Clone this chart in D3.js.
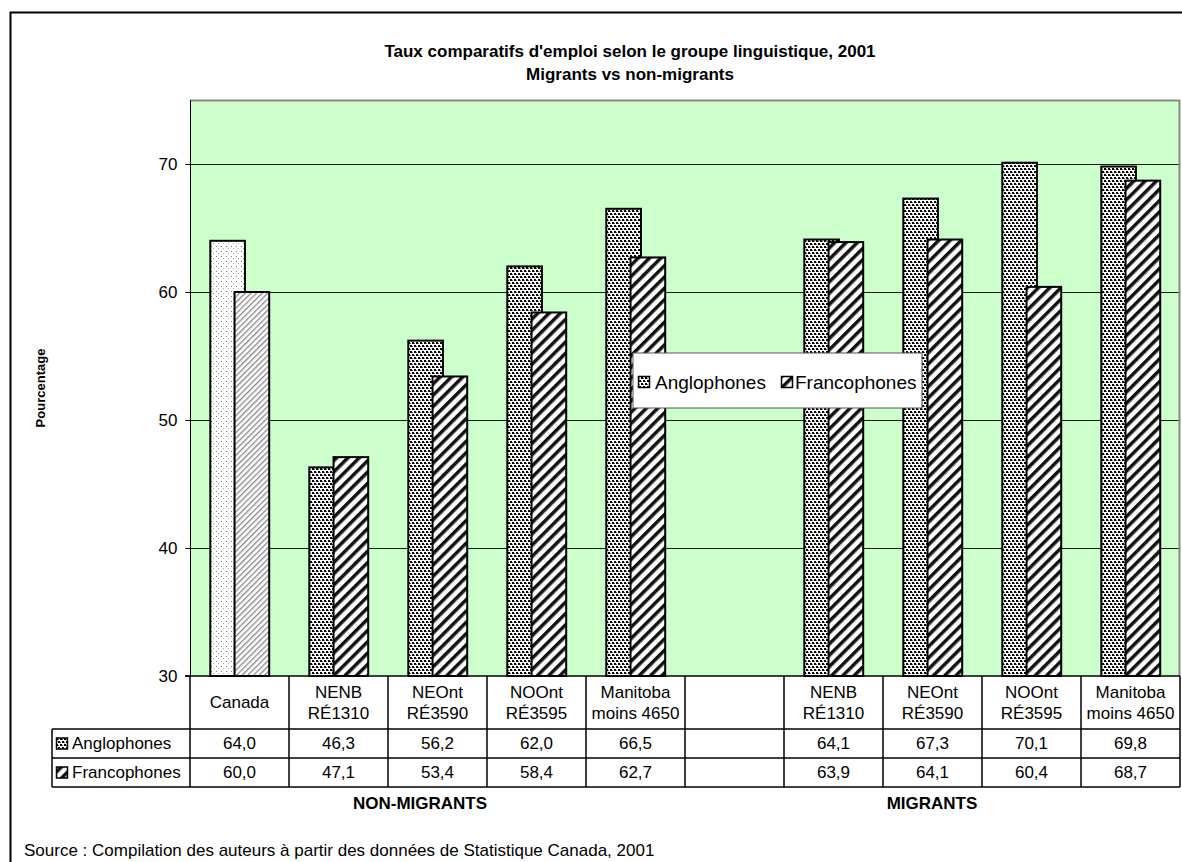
<!DOCTYPE html>
<html>
<head>
<meta charset="utf-8">
<script src="https://cdn.jsdelivr.net/npm/d3@7"></script>
<style>
  body { margin: 0; background: #fff; }
  svg text { font-family: "Liberation Sans", Arial, sans-serif; fill: #000; }
</style>
</head>
<body>
<div id="chart"></div>
<script>
// categories (two-line labels), empty slot separates non-migrants / migrants
var categories = [
  ["Canada"], ["NENB", "RÉ1310"], ["NEOnt", "RÉ3590"], ["NOOnt", "RÉ3595"], ["Manitoba", "moins 4650"],
  [],
  ["NENB", "RÉ1310"], ["NEOnt", "RÉ3590"], ["NOOnt", "RÉ3595"], ["Manitoba", "moins 4650"]
];
var anglophones  = [64.0, 46.3, 56.2, 62.0, 66.5, null, 64.1, 67.3, 70.1, 69.8];
var francophones = [60.0, 47.1, 53.4, 58.4, 62.7, null, 63.9, 64.1, 60.4, 68.7];
var seriesNames = ["Anglophones", "Francophones"];
var yTicks = [30, 40, 50, 60, 70];
var groupLabels = ["NON-MIGRANTS", "MIGRANTS"];
var titleLines = ["Taux comparatifs d'emploi selon le groupe linguistique, 2001", "Migrants vs non-migrants"];
var yTitle = "Pourcentage";
var source = "Source : Compilation des auteurs à partir des données de Statistique Canada, 2001";

var W = 1182, H = 862;
var plot = { left: 190, top: 100, right: 1180, bottom: 676 };

var svg = d3.select("#chart").append("svg")
    .attr("width", W)
    .attr("height", H);

// patterns
var defs = svg.append("defs");

var dots = defs.append("pattern").attr("id", "dots")
    .attr("width", 8).attr("height", 6).attr("patternUnits", "userSpaceOnUse");
dots.append("rect").attr("width", 8).attr("height", 6).attr("fill", "#fff");
[[0, 0], [4, 0], [2, 3], [6, 3]].forEach(function(p) {
    dots.append("rect").attr("x", p[0]).attr("y", p[1]).attr("width", 2).attr("height", 2).attr("fill", "#000");
});
[[2, 1], [6, 1], [0, 4], [4, 4]].forEach(function(p) {
    dots.append("rect").attr("x", p[0]).attr("y", p[1]).attr("width", 1).attr("height", 1).attr("fill", "#666");
});

var hatch = defs.append("pattern").attr("id", "hatch")
    .attr("width", 8).attr("height", 8).attr("patternUnits", "userSpaceOnUse")
    .attr("patternTransform", "rotate(45)");
hatch.append("rect").attr("width", 8).attr("height", 8).attr("fill", "#fff");
hatch.append("rect").attr("x", 0).attr("width", 3.5).attr("height", 8).attr("fill", "#111");

var dotsLight = defs.append("pattern").attr("id", "dotsLight")
    .attr("width", 5).attr("height", 5).attr("patternUnits", "userSpaceOnUse");
dotsLight.append("rect").attr("width", 5).attr("height", 5).attr("fill", "#fff");
dotsLight.append("rect").attr("x", 1).attr("y", 1).attr("width", 1).attr("height", 1).attr("fill", "#777");
dotsLight.append("rect").attr("x", 3).attr("y", 3).attr("width", 1).attr("height", 1).attr("fill", "#aaa");

var hatchLight = defs.append("pattern").attr("id", "hatchLight")
    .attr("width", 4).attr("height", 4).attr("patternUnits", "userSpaceOnUse")
    .attr("patternTransform", "rotate(45)");
hatchLight.append("rect").attr("width", 4).attr("height", 4).attr("fill", "#fff");
hatchLight.append("rect").attr("width", 1.3).attr("height", 4).attr("fill", "#888");

// outer frame (right side runs off the page)
svg.append("path")
    .attr("d", "M" + (W + 20) + ",12.5 H10.5 V" + (H + 5))
    .attr("fill", "none").attr("stroke", "#000").attr("stroke-width", 2);

// scales
var x = d3.scaleBand()
    .domain(d3.range(categories.length))
    .range([plot.left, plot.right])
    .paddingInner(0).paddingOuter(0);
var y = d3.scaleLinear()
    .domain([30, 75])
    .range([plot.bottom, plot.top]);
var fmt = d3.formatLocale({ decimal: ",", thousands: " ", grouping: [3], currency: ["", ""] }).format(".1f");

// plot background
svg.append("rect")
    .attr("x", plot.left).attr("y", plot.top)
    .attr("width", plot.right - plot.left).attr("height", plot.bottom - plot.top)
    .attr("fill", "#ccffcc");

// gridlines
svg.append("g")
    .selectAll("line")
    .data(yTicks.filter(function(d) { return d > 30; }))
    .join("line")
    .attr("x1", plot.left).attr("x2", plot.right)
    .attr("y1", function(d) { return y(d) + 0.5; })
    .attr("y2", function(d) { return y(d) + 0.5; })
    .attr("stroke", "#1a1a1a").attr("stroke-width", 1);

// top / right border of plot
svg.append("path")
    .attr("d", "M" + plot.left + "," + (plot.top + 0.5) + " H" + (plot.right - 0.5) + " V" + plot.bottom)
    .attr("fill", "none").attr("stroke", "#888").attr("stroke-width", 2);

// y axis
var yAxis = svg.append("g")
    .attr("transform", "translate(" + (plot.left + 0.5) + ",0)")
    .call(d3.axisLeft(y).tickValues(yTicks).tickSize(5).tickPadding(8).tickFormat(d3.format("d")));
yAxis.select(".domain").attr("stroke", "#000").attr("d", "M-5," + plot.bottom + "H0V" + plot.top);
yAxis.selectAll(".tick line").attr("stroke", "#000");
yAxis.selectAll(".tick text").attr("font-size", 17).attr("font-family", "Liberation Sans, Arial, sans-serif").attr("fill", "#000");

// bars
var bw = x.bandwidth();
var barW = bw * 0.35;
var series = [anglophones, francophones];
var fills = [["url(#dotsLight)", "url(#dots)"], ["url(#hatchLight)", "url(#hatch)"]];
var offsets = [0.205, 0.45];

// draw anglophones then francophones so the second overlaps the first
series.forEach(function(vals, si) {
    svg.append("g")
        .selectAll("rect")
        .data(vals.map(function(v, i) { return { v: v, i: i }; }).filter(function(d) { return d.v != null; }))
        .join("rect")
        .attr("x", function(d) { return x(d.i) + bw * offsets[si]; })
        .attr("y", function(d) { return y(d.v); })
        .attr("width", barW)
        .attr("height", function(d) { return y(30) - y(d.v); })
        .attr("fill", function(d) { return d.i === 0 ? fills[si][0] : fills[si][1]; })
        .attr("stroke", "#000").attr("stroke-width", 2);
});

// bottom axis line
svg.append("line")
    .attr("x1", plot.left - 5).attr("x2", plot.right)
    .attr("y1", plot.bottom).attr("y2", plot.bottom)
    .attr("stroke", "#000").attr("stroke-width", 1.5);

// data table
var rows = { head: plot.bottom, r1: 729, r2: 758, end: 787 };
var tableLeft = 52;
var table = svg.append("g").attr("stroke", "#000").attr("stroke-width", 1.5);
table.append("line").attr("x1", tableLeft).attr("x2", plot.right).attr("y1", rows.r1).attr("y2", rows.r1);
table.append("line").attr("x1", tableLeft).attr("x2", plot.right).attr("y1", rows.r2).attr("y2", rows.r2);
table.append("line").attr("x1", tableLeft).attr("x2", plot.right).attr("y1", rows.end).attr("y2", rows.end);
table.append("line").attr("x1", tableLeft).attr("x2", tableLeft).attr("y1", rows.r1).attr("y2", rows.end);
table.selectAll("line.v")
    .data(d3.range(categories.length + 1))
    .join("line").attr("class", "v")
    .attr("x1", function(i) { return i < categories.length ? x(i) : plot.right; })
    .attr("x2", function(i) { return i < categories.length ? x(i) : plot.right; })
    .attr("y1", rows.head).attr("y2", rows.end);

// category labels
var head = svg.append("g").attr("font-size", 17).attr("text-anchor", "middle");
categories.forEach(function(lines, i) {
    var cy = (rows.head + rows.r1) / 2;
    lines.forEach(function(t, k) {
        head.append("text")
            .attr("x", x(i) + bw / 2)
            .attr("y", cy + (k - (lines.length - 1) / 2) * 21)
            .attr("dy", "0.35em")
            .text(t);
    });
});

// value rows
var rowY = [(rows.r1 + rows.r2) / 2, (rows.r2 + rows.end) / 2];
series.forEach(function(vals, si) {
    svg.append("g").attr("font-size", 17).attr("text-anchor", "middle")
        .selectAll("text")
        .data(vals.map(function(v, i) { return { v: v, i: i }; }).filter(function(d) { return d.v != null; }))
        .join("text")
        .attr("x", function(d) { return x(d.i) + bw / 2; })
        .attr("y", rowY[si])
        .attr("dy", "0.35em")
        .text(function(d) { return fmt(d.v); });
    // row key + name
    svg.append("rect")
        .attr("x", 56.5).attr("y", rowY[si] - 5.5).attr("width", 11).attr("height", 11)
        .attr("fill", fills[si][1]).attr("stroke", "#000").attr("stroke-width", 1.5);
    svg.append("text")
        .attr("x", 72).attr("y", rowY[si]).attr("dy", "0.35em")
        .attr("font-size", 17)
        .text(seriesNames[si]);
});

// legend
var legend = svg.append("g").attr("transform", "translate(633,353)");
legend.append("rect").attr("width", 289).attr("height", 55)
    .attr("fill", "#fff").attr("stroke", "#555").attr("stroke-width", 1);
var legendX = [[5, 22], [148, 162]];
seriesNames.forEach(function(name, si) {
    legend.append("rect")
        .attr("x", legendX[si][0] + 0.5).attr("y", 23.5).attr("width", 11).attr("height", 11)
        .attr("fill", fills[si][1]).attr("stroke", "#000").attr("stroke-width", 1.5);
    legend.append("text")
        .attr("x", legendX[si][1]).attr("y", 29).attr("dy", "0.35em")
        .attr("font-size", 19)
        .text(name);
});

// group labels
var groupX = [420, 932];
groupLabels.forEach(function(t, i) {
    svg.append("text")
        .attr("x", groupX[i]).attr("y", 803).attr("dy", "0.35em")
        .attr("text-anchor", "middle").attr("font-size", 17).attr("font-weight", "bold")
        .text(t);
});

// title
titleLines.forEach(function(t, i) {
    svg.append("text")
        .attr("x", 630).attr("y", 51 + i * 23).attr("dy", "0.35em")
        .attr("text-anchor", "middle").attr("font-size", 17).attr("font-weight", "bold")
        .text(t);
});

// y title
svg.append("text")
    .attr("transform", "translate(40," + ((plot.top + plot.bottom) / 2) + ") rotate(-90)")
    .attr("text-anchor", "middle").attr("dy", "0.35em")
    .attr("font-size", 13).attr("font-weight", "bold")
    .text(yTitle);

// source
svg.append("text")
    .attr("x", 24).attr("y", 850).attr("dy", "0.35em")
    .attr("font-size", 17)
    .text(source);
</script>
</body>
</html>
